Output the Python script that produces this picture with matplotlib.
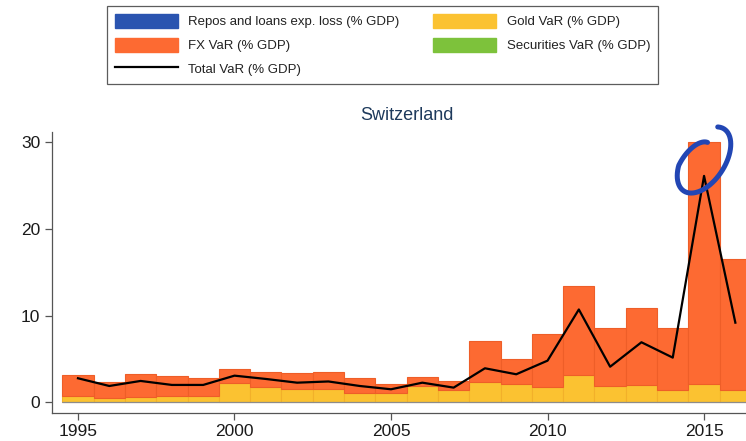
import matplotlib
matplotlib.use("Agg")
import matplotlib.pyplot as plt
import matplotlib.transforms as mtransforms
from matplotlib.patches import Patch
from matplotlib.lines import Line2D
import numpy as np

plt.rcParams["font.family"] = ["Liberation Sans", "DejaVu Sans"]

years = list(range(1995, 2017))
# bar tops (gold + FX) and gold component, % of GDP
bar_top = [3.15, 2.3, 3.23, 3.03, 2.84, 3.88, 3.53, 3.38, 3.53, 2.84, 2.07,
           2.92, 2.5, 7.07, 5.0, 7.84, 13.45, 8.6, 10.84, 8.6, 30.0, 16.5]
gold = [0.73, 0.46, 0.65, 0.73, 0.73, 2.19, 1.76, 1.53, 1.53, 1.04, 1.04,
        1.88, 1.42, 2.38, 2.11, 1.8, 3.15, 1.92, 2.0, 1.42, 2.07, 1.42]
fx = [t - g for t, g in zip(bar_top, gold)]
repos = [0.0] * len(years)
securities = [0.0] * len(years)
total = [2.77, 1.88, 2.46, 2.0, 2.0, 3.07, 2.69, 2.26, 2.4, 1.88, 1.5,
         2.26, 1.69, 3.92, 3.23, 4.8, 10.7, 4.1, 6.92, 5.15, 26.1, 9.18]

c_repos = "#2A54B0"
c_fx = "#FD6A32"
c_gold = "#FBC231"
c_sec = "#7DC23B"

fig = plt.figure(figsize=(7.46, 4.41), dpi=100)
ax = fig.add_axes([0.0697, 0.0642, 0.9303, 0.6372])

ax.bar(years, gold, width=1.0, color=c_gold, edgecolor="#F2B02A", linewidth=0.8)
ax.bar(years, fx, width=1.0, bottom=gold, color=c_fx, edgecolor="#EE5E28", linewidth=0.8)
ax.bar(years, securities, width=1.0, color=c_sec, edgecolor="#8C8C8C", linewidth=0.8)
ax.bar(years, repos, width=1.0, color=c_repos, edgecolor="#8C8C8C", linewidth=0.8)
ax.plot(years, total, color="black", linewidth=1.6)

ax.set_xlim(1994.17, 2016.34)
ax.set_ylim(-1.2, 31.2)
ax.set_yticks([0, 10, 20, 30])
ax.set_xticks([1995, 2000, 2005, 2010, 2015])
ax.tick_params(axis="both", labelsize=12.5, colors="#555555", labelcolor="#1a1a1a",
               length=5, width=0.9)
for side in ["top", "right"]:
    ax.spines[side].set_visible(False)
for side in ["left", "bottom"]:
    ax.spines[side].set_color("#555555")
    ax.spines[side].set_linewidth(0.9)

fig.text(407 / 746, 1 - 116 / 441, "Switzerland", ha="center", va="center",
         fontsize=13, color="#1E3A5C")

# hand-drawn loop around the 2015 peak, sized in pixels
t = np.radians(np.linspace(35, 378, 200))
r = np.interp(t, np.radians([35, 120, 378]), [0.55, 1.0, 1.0])
tilt = np.radians(57)
a, b = 37, 21
u = a * r * np.cos(t)
v = b * r * np.sin(t)
px = u * np.cos(tilt) - v * np.sin(tilt)
py = u * np.sin(tilt) + v * np.cos(tilt)
loop_at = mtransforms.ScaledTranslation(704 / 746, 1 - 160 / 441, fig.transFigure)
fig.add_artist(Line2D(px, py, transform=mtransforms.IdentityTransform() + loop_at,
                      color="#2246B4", linewidth=3.6, solid_capstyle="round"))

handles = [
    Patch(facecolor=c_repos, edgecolor=c_repos),
    Patch(facecolor=c_fx, edgecolor=c_fx),
    Line2D([], [], color="black", linewidth=1.6),
    Patch(facecolor=c_gold, edgecolor=c_gold),
    Patch(facecolor=c_sec, edgecolor=c_sec),
]
labels = [
    "Repos and loans exp. loss (% GDP)",
    "FX VaR (% GDP)",
    "Total VaR (% GDP)",
    "Gold VaR (% GDP)",
    "Securities VaR (% GDP)",
]
leg = fig.legend(handles, labels, ncol=2, loc="upper left",
                 bbox_to_anchor=(107.3 / 746, 1 - 6 / 441), fontsize=9.5,
                 frameon=True, fancybox=False, edgecolor="#333333",
                 handlelength=4.76, handleheight=1.27, handletextpad=0.8,
                 columnspacing=2.55, labelspacing=0.71, borderpad=0.58,
                 borderaxespad=0)
leg.get_frame().set_linewidth(0.9)
for txt in leg.get_texts():
    txt.set_color("#222222")

fig.savefig("out.png", dpi=100)
